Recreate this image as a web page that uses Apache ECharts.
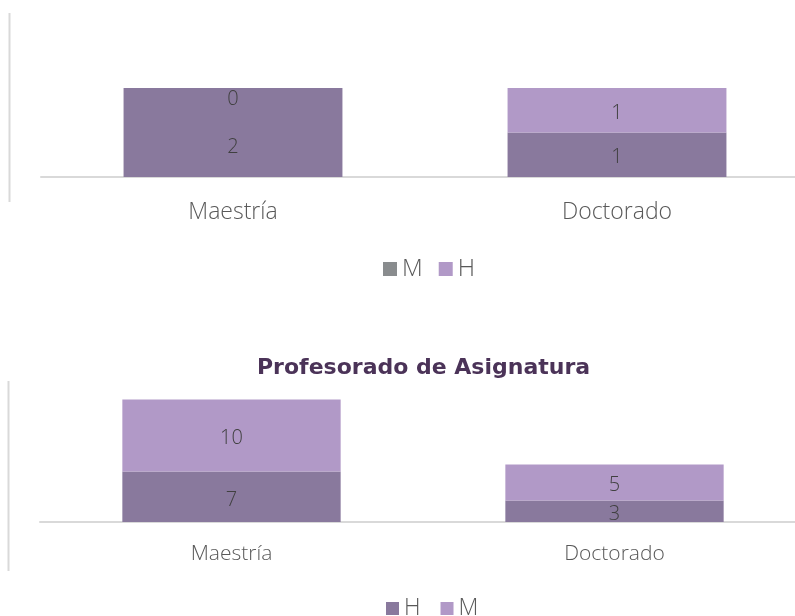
<!DOCTYPE html>
<html>
<head>
<meta charset="utf-8">
<script src="https://cdn.jsdelivr.net/npm/echarts@6/dist/echarts.min.js"></script>
<style>
  html, body { margin: 0; padding: 0; background: #fff; }
  #main { width: 795px; height: 616px; }
</style>
</head>
<body>
<div id="main"></div>
<script>
// datos
const categorias = ['Maestría', 'Doctorado']

// gráfica superior
const superiorM = [2, 1]
const superiorH = [0, 1]

// Profesorado de Asignatura
const asignaturaH = [7, 3]
const asignaturaM = [10, 5]

const tituloAsignatura = 'Profesorado de Asignatura'

const oscuro = '#89799D'
const claro = '#B199C7'
const gris = '#898C8E'
const fuente = 'Open Sans'

const chart = echarts.init(document.getElementById('main'))

const etiqueta = {
  show: true,
  position: 'inside',
  offset: [0, 3],
  color: '#404040',
  fontFamily: fuente,
  fontWeight: 300,
  fontSize: 20,
}

const option = {
  animation: false,
  backgroundColor: '#fff',
  title: {
    text: tituloAsignatura,
    left: 252,
    top: 352,
    textStyle: {
      color: '#4B3358',
      fontFamily: 'DejaVu Sans',
      fontWeight: 'bold',
      fontSize: 22,
    },
  },
  legend: [
    {
      data: ['M', 'H'],
      left: 383,
      top: 257,
      padding: 0,
      itemWidth: 14,
      itemHeight: 14,
      itemGap: 16,
      icon: 'rect',
      textStyle: { color: '#595959', fontFamily: fuente, fontWeight: 300, fontSize: 24 },
    },
    {
      data: ['H ', 'M '],
      left: 386,
      top: 597,
      padding: 0,
      itemWidth: 13,
      itemHeight: 13,
      itemGap: 14,
      icon: 'rect',
      textStyle: { color: '#595959', fontFamily: fuente, fontWeight: 300, fontSize: 23 },
    },
  ],
  grid: [
    { left: 41, width: 768, top: 43.5, height: 133.5, outerBoundsMode: 'none' },
    { left: 40, width: 766, top: 378, height: 144, outerBoundsMode: 'none' },
  ],
  xAxis: [
    {
      gridIndex: 0,
      type: 'category',
      data: categorias,
      axisLine: { lineStyle: { color: '#D9D9D9', width: 2 } },
      axisTick: { show: false },
      axisLabel: { color: '#595959', fontFamily: fuente, fontWeight: 300, fontSize: 23, margin: 24 },
    },
    {
      gridIndex: 1,
      type: 'category',
      data: categorias,
      axisLine: { lineStyle: { color: '#D9D9D9', width: 2 } },
      axisTick: { show: false },
      axisLabel: { color: '#595959', fontFamily: fuente, fontWeight: 300, fontSize: 21, margin: 22 },
    },
  ],
  yAxis: [
    { gridIndex: 0, type: 'value', min: 0, max: 3, show: false },
    { gridIndex: 1, type: 'value', min: 0, max: 20, show: false },
  ],
  series: [
    {
      name: 'M',
      type: 'bar',
      stack: 'sup',
      xAxisIndex: 0,
      yAxisIndex: 0,
      barWidth: '57%',
      itemStyle: { color: gris },
      label: etiqueta,
      data: superiorM.map((v, i) => ({
        value: v,
        itemStyle: { color: oscuro },
        label: i === 0 ? { offset: [0, 15] } : {},
      })),
    },
    {
      name: 'H',
      type: 'bar',
      stack: 'sup',
      xAxisIndex: 0,
      yAxisIndex: 0,
      barWidth: '57%',
      itemStyle: { color: claro },
      label: etiqueta,
      data: superiorH.map((v) =>
        v === 0
          ? { value: v, itemStyle: { color: oscuro }, label: { position: 'bottom', distance: 0, offset: [0, 1] } }
          : v
      ),
    },
    {
      name: 'H ',
      type: 'bar',
      stack: 'asig',
      xAxisIndex: 1,
      yAxisIndex: 1,
      barWidth: '57%',
      itemStyle: { color: oscuro },
      label: etiqueta,
      data: asignaturaH,
    },
    {
      name: 'M ',
      type: 'bar',
      stack: 'asig',
      xAxisIndex: 1,
      yAxisIndex: 1,
      barWidth: '57%',
      itemStyle: { color: claro },
      label: etiqueta,
      data: asignaturaM,
    },
  ],
  graphic: [
    {
      type: 'line',
      shape: { x1: 9.5, y1: 13, x2: 9.5, y2: 202 },
      style: { stroke: '#D9D9D9', lineWidth: 2 },
    },
    {
      type: 'line',
      shape: { x1: 8.5, y1: 381, x2: 8.5, y2: 571 },
      style: { stroke: '#D9D9D9', lineWidth: 2 },
    },
  ],
}

chart.setOption(option)
</script>
</body>
</html>
